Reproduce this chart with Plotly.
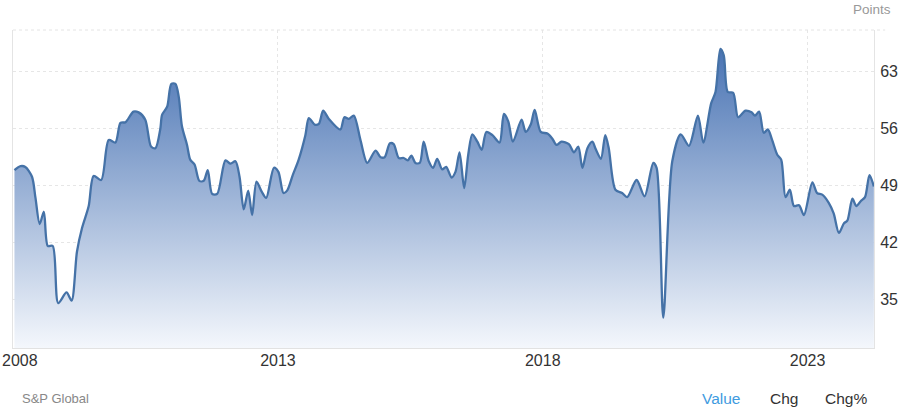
import plotly.graph_objects as go

# readings taken off the reference chart (turning points of the monthly series)
dates = [
    "2008-01-11", "2008-02-22", "2008-03-26", "2008-05-11", "2008-06-04", "2008-07-03",
    "2008-08-01", "2008-08-28", "2008-10-01", "2008-11-08", "2009-01-04", "2009-02-08",
    "2009-03-17", "2009-04-21", "2009-06-06", "2009-07-10", "2009-08-31", "2009-10-22",
    "2009-12-07", "2010-01-11", "2010-02-15", "2010-04-11", "2010-05-16", "2010-07-01",
    "2010-08-10", "2010-09-09", "2010-10-13", "2010-10-25", "2010-11-29", "2010-12-28",
    "2011-01-25", "2011-02-17", "2011-03-11", "2011-04-15", "2011-05-07", "2011-06-06",
    "2011-07-09", "2011-08-08", "2011-09-05", "2011-10-05", "2011-11-09", "2012-01-05",
    "2012-02-09", "2012-03-14", "2012-04-11", "2012-05-10", "2012-06-10", "2012-07-07",
    "2012-08-06", "2012-09-10", "2012-10-12", "2012-12-04", "2013-01-04", "2013-02-08",
    "2013-03-05", "2013-04-13", "2013-05-24", "2013-07-09", "2013-08-02", "2013-09-11",
    "2013-10-10", "2013-11-09", "2013-12-18", "2014-03-07", "2014-04-04", "2014-05-04",
    "2014-06-08", "2014-07-24", "2014-09-09", "2014-11-05", "2014-12-10", "2015-01-07",
    "2015-02-12", "2015-03-10", "2015-04-14", "2015-05-18", "2015-06-15", "2015-07-10",
    "2015-08-07", "2015-09-06", "2015-10-03", "2015-11-07", "2015-12-07", "2016-01-04",
    "2016-02-08", "2016-03-06", "2016-04-12", "2016-05-09", "2016-06-06", "2016-07-08",
    "2016-08-05", "2016-09-02", "2016-10-07", "2016-11-06", "2016-12-08", "2017-01-19",
    "2017-03-09", "2017-04-08", "2017-05-08", "2017-06-09", "2017-08-08", "2017-09-05",
    "2017-10-10", "2017-11-06", "2017-12-18", "2018-02-02", "2018-03-07", "2018-04-06",
    "2018-05-10", "2018-06-30", "2018-08-04", "2018-09-03", "2018-10-01", "2018-11-05",
    "2018-12-09", "2019-01-01", "2019-02-06", "2019-03-08", "2019-04-01", "2019-05-17",
    "2019-07-02", "2019-08-06", "2019-10-10", "2019-12-04", "2020-02-02", "2020-02-25",
    "2020-04-11", "2020-06-12", "2020-08-09", "2020-10-05", "2020-12-06", "2021-01-12",
    "2021-03-07", "2021-04-06", "2021-05-10", "2021-06-02", "2021-06-30", "2021-08-06",
    "2021-09-09", "2021-10-30", "2021-12-11", "2022-01-03", "2022-02-01", "2022-03-05",
    "2022-04-02", "2022-05-02", "2022-06-06", "2022-07-03", "2022-08-02", "2022-09-01",
    "2022-09-29", "2022-11-03", "2022-12-07", "2023-02-03", "2023-03-08", "2023-04-12",
    "2023-05-27", "2023-06-30", "2023-08-05", "2023-09-09", "2023-10-02", "2023-11-06",
    "2023-12-03", "2024-01-02", "2024-02-01", "2024-03-03", "2024-04-02",
]
points = [
    50.9, 51.4, 51.3, 50.1, 47.5, 44.3,
    45.8, 41.6, 41.6, 34.6, 35.9, 34.9,
    40.9, 43.8, 46.5, 50.2, 49.7, 54.6,
    54.3, 56.7, 56.8, 58.1, 58.0, 57.1,
    53.8, 53.6, 56.0, 57.7, 58.7, 61.5,
    61.5, 59.9, 56.3, 54.0, 52.2, 51.6,
    49.6, 49.6, 50.9, 48.0, 48.0, 52.1,
    51.7, 52.0, 50.1, 46.1, 48.4, 45.4,
    49.5, 48.3, 47.5, 51.2, 50.7, 48.1,
    48.4, 50.3, 52.2, 55.2, 57.3, 56.5,
    56.6, 58.2, 57.2, 55.9, 57.4, 57.2,
    57.6, 54.6, 51.8, 53.3, 52.5, 52.5,
    54.2, 54.1, 52.4, 52.4, 52.1, 52.7,
    51.8, 51.8, 54.4, 52.0, 51.2, 52.3,
    51.0, 51.3, 50.0, 50.7, 53.1, 48.7,
    52.8, 55.3, 54.4, 53.4, 55.6, 55.2,
    54.3, 57.8, 56.9, 54.4, 57.1, 55.6,
    56.5, 58.3, 55.6, 55.4, 54.8, 54.0,
    54.4, 54.1, 53.1, 53.8, 51.2, 53.6,
    54.4, 53.5, 52.3, 55.2, 53.6, 48.5,
    48.1, 47.6, 49.7, 47.7, 51.8, 51.2,
    32.8, 52.0, 55.3, 53.9, 57.6, 54.3,
    59.1, 60.5, 65.8, 65.0, 60.5, 60.4,
    57.4, 58.2, 58.0, 57.6, 58.1, 55.5,
    55.9, 54.6, 52.8, 52.2, 47.6, 48.5,
    46.5, 46.6, 45.4, 49.4, 48.1, 47.9,
    46.9, 45.6, 43.2, 44.4, 44.7, 47.4,
    46.5, 47.1, 47.6, 50.3, 48.9,
]

y_ticks = [35, 42, 49, 56, 63]
x_ticks = ["2008-01-01", "2013-01-01", "2018-01-01", "2023-01-01"]
x_labels = ["", "2013", "2018", "2023"]  # 2008 is drawn as an annotation so it isn't hidden at the edge

y_low, y_high = 29.08, 68.11
font = "Arial, Liberation Sans, sans-serif"

fig = go.Figure()
fig.add_trace(go.Scatter(
    x=dates, y=points,
    mode="lines",
    line=dict(color="#4572a7", width=2.3, shape="spline", smoothing=0.8),
    fill="tozeroy",
    fillgradient=dict(
        type="vertical",
        start=y_low, stop=max(points),
        colorscale=[[0, "rgb(244,247,252)"], [1, "rgb(74,116,180)"]],
    ),
    hoverinfo="skip",
))

# dotted line along the top of the plot, running a little past the right edge
fig.add_shape(type="line", xref="paper", yref="paper", x0=0, x1=1.013, y0=1, y1=1,
              line=dict(color="#e4e4e4", width=1, dash="dot"))

fig.update_layout(
    width=900, height=408,
    margin=dict(l=13, r=26, t=30, b=60, autoexpand=False),
    paper_bgcolor="white", plot_bgcolor="white",
    showlegend=False,
    font=dict(family=font, color="#333333"),
    xaxis=dict(
        type="date",
        range=["2008-01-01", "2024-04-03"],
        tickvals=x_ticks, ticktext=x_labels,
        tickfont=dict(size=16, color="#333333"),
        showgrid=True, gridcolor="#e6e6e6", griddash="dot",
        showline=True, linecolor="#e2e2e2", linewidth=1,
        ticks="", ticklabelstandoff=-2, zeroline=False, automargin=False,
    ),
    yaxis=dict(
        range=[y_low, y_high],
        side="right",
        tickvals=y_ticks,
        tickfont=dict(size=16, color="#333333"),
        showgrid=True, gridcolor="#e6e6e6", griddash="dot",
        showline=True, mirror=True, linecolor="#e4e4e4", linewidth=1,
        ticks="", ticklabelstandoff=2, zeroline=False, automargin=False,
        ticklabeloverflow="allow",
    ),
    annotations=[
        dict(text="2008", xref="paper", yref="paper", x=0, y=0, xshift=-13, yshift=-12,
             xanchor="left", yanchor="middle", showarrow=False,
             font=dict(size=16, color="#333333")),
        dict(text="Points", xref="paper", yref="paper", x=1.0221, y=1.0, yshift=21,
             xanchor="right", yanchor="middle", showarrow=False,
             font=dict(size=13.5, color="#999999")),
        dict(text="S&P Global", xref="paper", yref="paper", x=0.0, y=0, yshift=-50,
             xshift=7, xanchor="left", yanchor="middle", showarrow=False,
             font=dict(size=13, color="#888888")),
        dict(text="Value", xref="paper", yref="paper", x=0.7979, y=0, yshift=-50,
             xanchor="left", yanchor="middle", showarrow=False,
             font=dict(size=15.5, color="#3f9be0")),
        dict(text="Chg", xref="paper", yref="paper", x=0.8769, y=0, yshift=-50,
             xanchor="left", yanchor="middle", showarrow=False,
             font=dict(size=15.5, color="#333333")),
        dict(text="Chg%", xref="paper", yref="paper", x=0.9408, y=0, yshift=-50,
             xanchor="left", yanchor="middle", showarrow=False,
             font=dict(size=15.5, color="#333333")),
    ],
)

fig.write_html("out.html", config={"displayModeBar": False},
               post_script="document.body.style.margin='0';")
